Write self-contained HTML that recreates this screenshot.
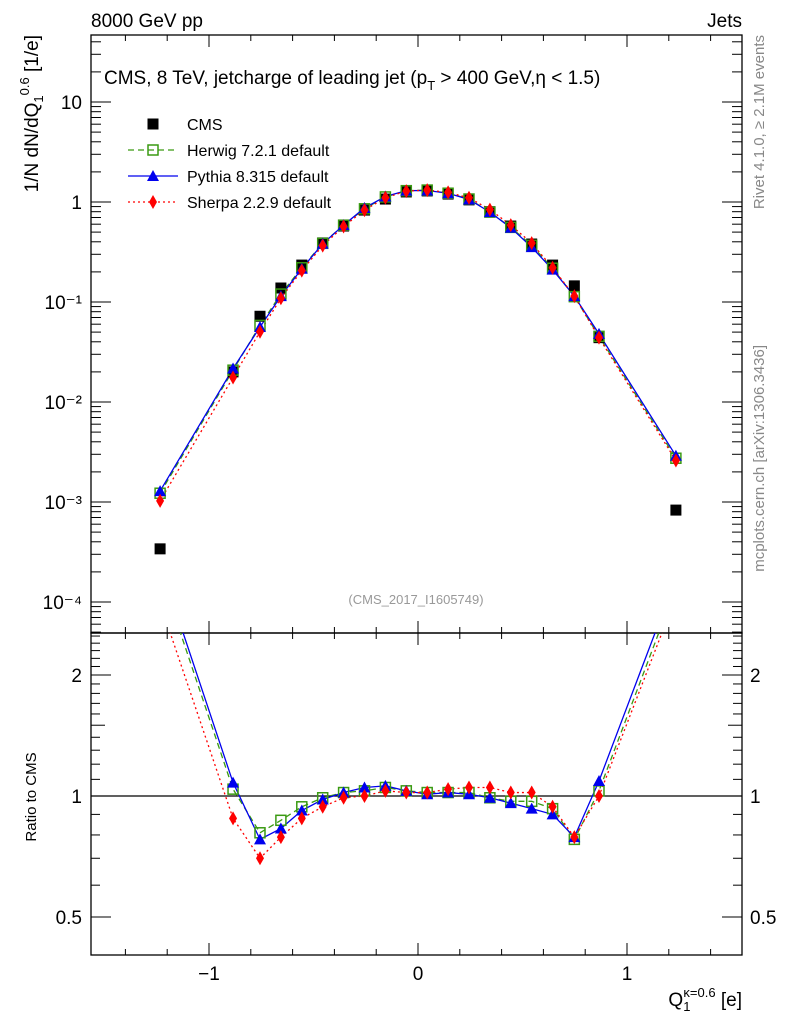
<!DOCTYPE html>
<html><head><meta charset="utf-8"><style>
body{margin:0;background:#fff}
svg text{font-family:"Liberation Sans",sans-serif}
</style></head><body>
<svg id="c" width="786" height="1024" viewBox="0 0 786 1024" xmlns="http://www.w3.org/2000/svg">
<g id="g"></g>
</svg>
<script>
const xCenters=[-1.234,-0.885,-0.756,-0.656,-0.556,-0.456,-0.356,-0.256,-0.156,-0.056,0.044,0.144,0.244,0.344,0.444,0.544,0.644,0.748,0.866,1.234];
const cmsValues=[3.4e-4,0.020,0.072,0.138,0.234,0.39,0.575,0.83,1.07,1.26,1.29,1.20,1.05,0.80,0.575,0.38,0.234,0.145,0.044,8.3e-4];
const herwigRatio=[3.6,1.04,0.81,0.87,0.94,0.99,1.02,1.03,1.05,1.03,1.02,1.02,1.02,0.99,0.97,0.97,0.93,0.78,1.03,3.3];
const pythiaRatio=[3.78,1.08,0.78,0.83,0.92,0.98,1.02,1.05,1.06,1.03,1.01,1.02,1.01,0.99,0.96,0.93,0.90,0.79,1.09,3.49];
const sherpaRatio=[3.02,0.88,0.70,0.79,0.88,0.94,0.99,1.00,1.03,1.02,1.02,1.04,1.05,1.05,1.02,1.02,0.94,0.79,1.00,3.13];
const xTicks=[-1,0,1];
const yTicks=[10,1,0.1,0.01,0.001,0.0001];
const yTickLabels=["10","1","10⁻¹","10⁻²","10⁻³","10⁻⁴"];
const rTicks=[2,1,0.5];

const L=91,R=742,T=35,M=633,B=955;
const X=v=>418+v*209;
const Y=v=>202-100*Math.log10(v);
const RY=v=>796-121*Math.log2(v);
const NS="http://www.w3.org/2000/svg";
const g=document.getElementById('g');
function el(t,a,txt){const e=document.createElementNS(NS,t);for(const k in a)e.setAttribute(k,a[k]);if(txt!==undefined)e.textContent=txt;g.appendChild(e);return e;}

let e=el('rect',{x:L,y:T,width:R-L,height:M-T,fill:'none',stroke:'#000','stroke-width':1.3});

e=el('rect',{x:L,y:M,width:R-L,height:B-M,fill:'none',stroke:'#000','stroke-width':1.3});


for(let i=-15;i<=15;i++){const v=i/10;const x=X(v);if(x<L||x>R)continue;
 const major=i%10===0, mid=i%2===0; const len=major?12:(mid?6:0); if(!len)continue;
 for(const [y0,s] of [[T,1],[M,-1],[M,1],[B,-1]]){e=el('line',{x1:x,x2:x,y1:y0,y2:y0+s*len,stroke:'#000'});}
}
xTicks.forEach(v=>{e=el('text',{x:X(v),y:980,'font-size':19,'text-anchor':'middle'},v<0?'−'+Math.abs(v):String(v));});

for(let d=-5;d<=1;d++){for(let m=1;m<=9;m++){const v=m*Math.pow(10,d);const y=Y(v);if(y<T||y>M)continue;const len=m===1?20:10;
 e=el('line',{x1:L,x2:L+len,y1:y,y2:y,stroke:'#000'});
 e=el('line',{x1:R,x2:R-len,y1:y,y2:y,stroke:'#000'});}}
yTicks.forEach((v,i)=>{e=el('text',{x:82,y:Y(v)+7,'font-size':19,'text-anchor':'end'},yTickLabels[i]);});

for(let v=0.4;v<=2.6;v+=0.1){const vv=Math.round(v*10)/10;const y=RY(vv);if(y<M||y>B)continue;const len=(vv===1||vv===2||vv===0.5)?20:(vv===1.5?14:9);
 e=el('line',{x1:L,x2:L+len,y1:y,y2:y,stroke:'#000'});
 e=el('line',{x1:R,x2:R-len,y1:y,y2:y,stroke:'#000'});}
rTicks.forEach(v=>{e=el('text',{x:82,y:RY(v)+7,'font-size':19,'text-anchor':'end'},String(v));
 e=el('text',{x:750,y:RY(v)+7,'font-size':19},String(v));});
e=el('line',{x1:L,x2:R,y1:RY(1),y2:RY(1),stroke:'#000','stroke-width':1.2});

const defs=document.createElementNS(NS,'defs');defs.innerHTML='<clipPath id="cm"><rect x="91" y="35" width="651" height="598"/></clipPath><clipPath id="cr"><rect x="91" y="633" width="651" height="322"/></clipPath>';
document.getElementById('c').insertBefore(defs,g);

const series=[
 {name:'herwig',r:herwigRatio,color:'#3a9a12',dash:'6,4',mk:'sq'},
 {name:'pythia',r:pythiaRatio,color:'#0000ee',dash:'',mk:'tri'},
 {name:'sherpa',r:sherpaRatio,color:'#ff0000',dash:'2,3',mk:'dia'}];
function marker(type,x,y,color,name){let m;
 if(type==='sq')m=el('rect',{x:x-5,y:y-5,width:10,height:10,fill:'none',stroke:color,'stroke-width':1.5});
 else if(type==='tri')m=el('polygon',{points:`${x},${y-6} ${x-6},${y+5} ${x+6},${y+5}`,fill:color});
 else if(type==='dia')m=el('polygon',{points:`${x},${y-7} ${x-4},${y} ${x},${y+7} ${x+4},${y}`,fill:color});
 else m=el('rect',{x:x-5.5,y:y-5.5,width:11,height:11,fill:color});
 return m;}

series.forEach(s=>{
 const pts=xCenters.map((x,i)=>X(x)+','+Y(cmsValues[i]*s.r[i])).join(' ');
 e=el('polyline',{points:pts,fill:'none',stroke:s.color,'stroke-width':1.3,'stroke-dasharray':s.dash,'clip-path':'url(#cm)'});
 
 const rp=xCenters.map((x,i)=>X(x)+','+RY(s.r[i])).join(' ');
 e=el('polyline',{points:rp,fill:'none',stroke:s.color,'stroke-width':1.3,'stroke-dasharray':s.dash,'clip-path':'url(#cr)'});
 
});
xCenters.forEach((x,i)=>marker('cms',X(x),Y(cmsValues[i]),'#000','cms-point'));
series.forEach(s=>{xCenters.forEach((x,i)=>{
 marker(s.mk,X(x),Y(cmsValues[i]*s.r[i]),s.color,s.name+'-point');
 const ry=RY(s.r[i]);if(ry>M+4&&ry<B)marker(s.mk,X(x),ry,s.color,s.name+'-ratio-point');});});

const leg=[['CMS','cms','#000',''],['Herwig 7.2.1 default','sq','#3a9a12','6,4'],['Pythia 8.315 default','tri','#0000ee',''],['Sherpa 2.2.9 default','dia','#ff0000','2,3']];
leg.forEach((l,i)=>{const y=124+i*26;
 if(i>0){e=el('line',{x1:128,x2:178,y1:y,y2:y,stroke:l[2],'stroke-width':1.3,'stroke-dasharray':l[3]});}
 marker(l[1],153,y,l[2],'legend-marker');
 e=el('text',{x:187,y:y+6,'font-size':16},l[0]);});

function tx(a,t,n){e=el('text',a,t);return e;}
tx({x:91,y:27,'font-size':19},'8000 GeV pp','energy-label');
tx({x:742,y:27,'font-size':19,'text-anchor':'end'},'Jets','process-label');
e=tx({x:104,y:84,'font-size':19},'','plot-title');
e.innerHTML='CMS, 8 TeV, jetcharge of leading jet (p<tspan dy="6" font-size="13">T</tspan><tspan dy="-6"> &gt; 400 GeV,η &lt; 1.5)</tspan>';
tx({x:416,y:604,'font-size':13,fill:'#999','text-anchor':'middle'},'(CMS_2017_I1605749)','analysis-id');
tx({x:764,y:35,'font-size':15,fill:'#888','text-anchor':'end',transform:'rotate(-90 764 35)'},'Rivet 4.1.0, ≥ 2.1M events','rivet-label');
tx({x:764,y:345,'font-size':15,fill:'#888','text-anchor':'end',transform:'rotate(-90 764 345)'},'mcplots.cern.ch [arXiv:1306.3436]','mcplots-label');
e=tx({x:38,y:35,'font-size':19,'text-anchor':'end',transform:'rotate(-90 38 35)'},'','y-axis-title');
e.innerHTML='1/N dN/dQ<tspan dy="5" font-size="13">1</tspan><tspan dy="-14" font-size="13">0.6</tspan><tspan dy="9"> [1/e]</tspan>';
tx({x:36,y:797,'font-size':15,'text-anchor':'middle',transform:'rotate(-90 36 797)'},'Ratio to CMS','ratio-axis-title');
e=tx({x:742,y:1006,'font-size':19,'text-anchor':'end'},'','x-axis-title');
e.innerHTML='Q<tspan dy="5" font-size="13">1</tspan><tspan dy="-14" dx="-7" font-size="13">κ=0.6</tspan><tspan dy="9"> [e]</tspan>';
</script>
</body></html>
